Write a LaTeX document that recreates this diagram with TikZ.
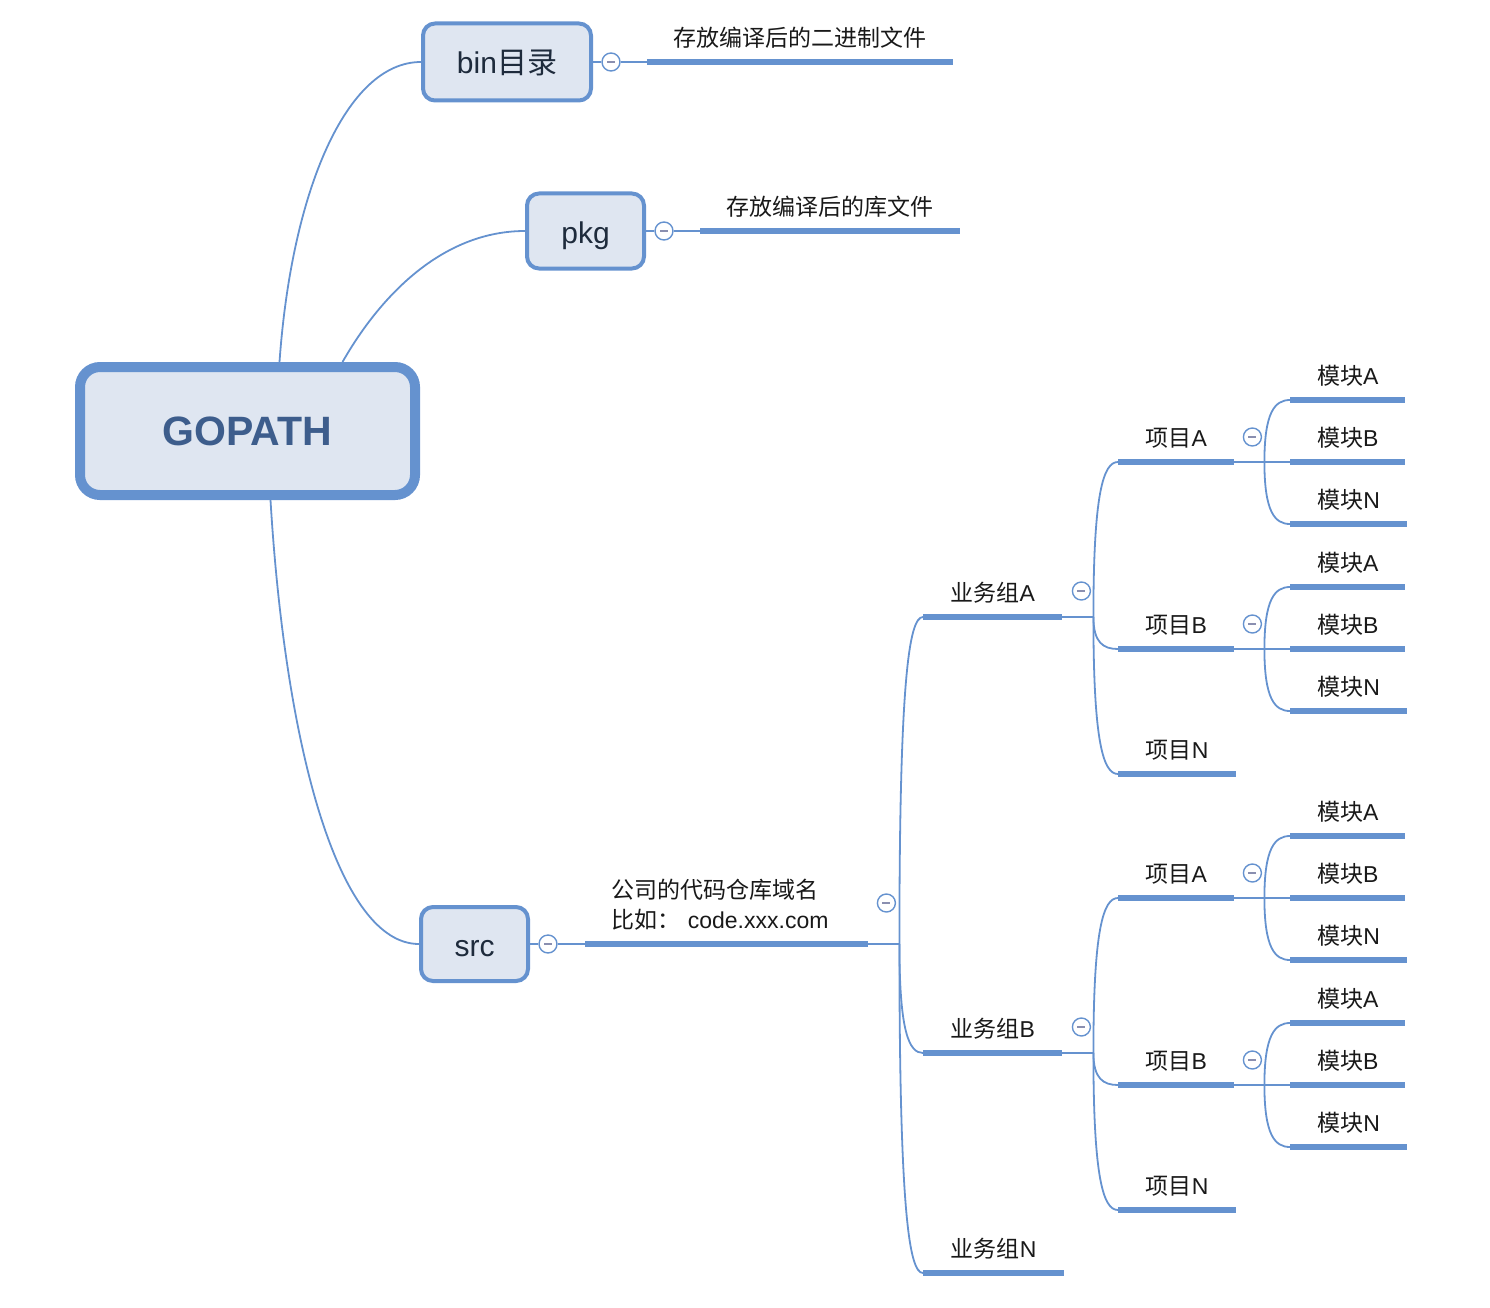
\documentclass[tikz,border=0pt]{standalone}
\usepackage{fontspec}
\setmainfont{Liberation Sans}
\newfontfamily\cjk{Noto Sans CJK SC}
\usetikzlibrary{calc}

\definecolor{mmline}{HTML}{6592CF}
\definecolor{mmfill}{HTML}{DFE6F1}
\definecolor{mmtext}{HTML}{1E2B3C}
\definecolor{mmhead}{HTML}{3D5D8C}
\definecolor{mmminus}{HTML}{8A8FB0}

\tikzset{
  root/.style={draw=mmline, line width=10pt, fill=mmfill, rounded corners=20pt,
    minimum width=335pt, minimum height=128pt, inner sep=0pt, text=mmhead,
    font=\bfseries\fontsize{41}{48}\selectfont},
  dir/.style={draw=mmline, line width=4pt, fill=mmfill, rounded corners=12pt,
    inner sep=0pt, text=mmtext, text height=24pt, text depth=0pt,
    font=\fontsize{30}{36}\selectfont},
  topic/.style={anchor=south west, inner sep=0pt, minimum height=48pt,
    text=black!90, font=\fontsize{23}{30}\selectfont,
    append after command={(\tikzlastnode.south west) edge[uline] (\tikzlastnode.south east)}},
  uline/.style={mmline, line width=6pt},
  link/.style={mmline, line width=1.8pt},
  fold/.style={circle, draw=mmline, fill=white, line width=1.4pt, minimum size=18pt, inner sep=0pt,
    path picture={\draw[mmminus, line width=1.4pt]
      ([xshift=-4pt]path picture bounding box.center) -- ([xshift=4pt]path picture bounding box.center);}},
  branch/.style={link, to path={.. controls ($(\tikztostart)!0.8!(\tikztostart|-\tikztotarget)$)
    and ($(\tikztotarget)!0.6!(\tikztostart|-\tikztotarget)$) .. (\tikztotarget)}},
}

\begin{document}
\begin{tikzpicture}[x=1pt, y=-1pt]
  \useasboundingbox (0,0) rectangle (1490,1308);

  % root and first level
  \node[root] (gopath) at (247.5,431) {GOPATH};
  \node[dir, minimum width=168pt, minimum height=77pt] (bin) at (507,62) {bin{\cjk 目录}};
  \node[dir, minimum width=117pt, minimum height=75pt] (pkg) at (585.5,231) {pkg};
  \node[dir, minimum width=107pt, minimum height=74pt] (src) at (474.5,944) {src};

  \draw[link] ([xshift=32pt]gopath.north) .. controls +(12,-170) and +(-75,0) .. (bin.west);
  \draw[link] ([xshift=95pt]gopath.north) .. controls +(40,-70) and +(-80,0) .. (pkg.west);
  \draw[link] ([xshift=23pt]gopath.south) .. controls +(15,250) and +(-80,0) .. (src.west);

  % descriptions
  \node[topic, minimum width=306pt] (bindesc) at (647,62) {\cjk 存放编译后的二进制文件};
  \node[topic, minimum width=260pt] (pkgdesc) at (700,231) {\cjk 存放编译后的库文件};
  \node[topic, minimum width=283pt, minimum height=78pt, text width=231pt, align=left] (srcdesc) at (585,944)
    {{\cjk 公司的代码仓库域名}\\{\cjk 比如：}\ code.xxx.com};

  \foreach \d in {bin,pkg,src}{
    \node[fold] (\d-f) at ([xshift=18pt]\d.east) {};
    \draw[link] (\d.east) -- (\d-f) -- (\d desc.south west);
  }

  % business groups
  \node[topic, minimum width=139pt] (ga) at ([xshift=338pt,yshift=327pt]srcdesc.south west) {{\cjk 业务组}A};
  \node[topic, minimum width=139pt] (gb) at ([xshift=338pt,yshift=-109pt]srcdesc.south west) {{\cjk 业务组}B};
  \node[topic, minimum width=141pt] (gn) at ([xshift=338pt,yshift=-329pt]srcdesc.south west) {{\cjk 业务组}N};

  \coordinate (srcdesc-x) at ([xshift=31pt]srcdesc.south east);
  \node[fold] at ([xshift=18pt,yshift=41pt]srcdesc.south east) {};
  \draw[link] (srcdesc.south east) -- (srcdesc-x);
  \foreach \g in {ga,gb,gn}
    \draw[branch] (srcdesc-x) to (\g.south west);

  % projects
  \foreach \g in {ga,gb}{
    \node[topic, minimum width=116pt] (\g-pa) at ([xshift=195pt,yshift=155pt]\g.south west) {{\cjk 项目}A};
    \node[topic, minimum width=116pt] (\g-pb) at ([xshift=195pt,yshift=-32pt]\g.south west) {{\cjk 项目}B};
    \node[topic, minimum width=118pt] (\g-pn) at ([xshift=195pt,yshift=-157pt]\g.south west) {{\cjk 项目}N};
    \coordinate (\g-x) at ([xshift=31pt]\g.south east);
    \node[fold] at ([xshift=19pt,yshift=26pt]\g.south east) {};
    \draw[link] (\g.south east) -- (\g-x);
    \foreach \p in {pa,pb,pn}
      \draw[branch] (\g-x) to (\g-\p.south west);
  }

  % modules
  \foreach \p in {ga-pa,ga-pb,gb-pa,gb-pb}{
    \node[topic, minimum width=115pt] (\p-ma) at ([xshift=172pt,yshift=62pt]\p.south west) {{\cjk 模块}A};
    \node[topic, minimum width=115pt] (\p-mb) at ([xshift=172pt]\p.south west) {{\cjk 模块}B};
    \node[topic, minimum width=117pt] (\p-mn) at ([xshift=172pt,yshift=-62pt]\p.south west) {{\cjk 模块}N};
    \coordinate (\p-x) at ([xshift=30pt]\p.south east);
    \node[fold] at ([xshift=18pt,yshift=25pt]\p.south east) {};
    \draw[link] (\p.south east) -- (\p-x);
    \foreach \m in {ma,mb,mn}
      \draw[branch] (\p-x) to (\p-\m.south west);
  }
\end{tikzpicture}
\end{document}
